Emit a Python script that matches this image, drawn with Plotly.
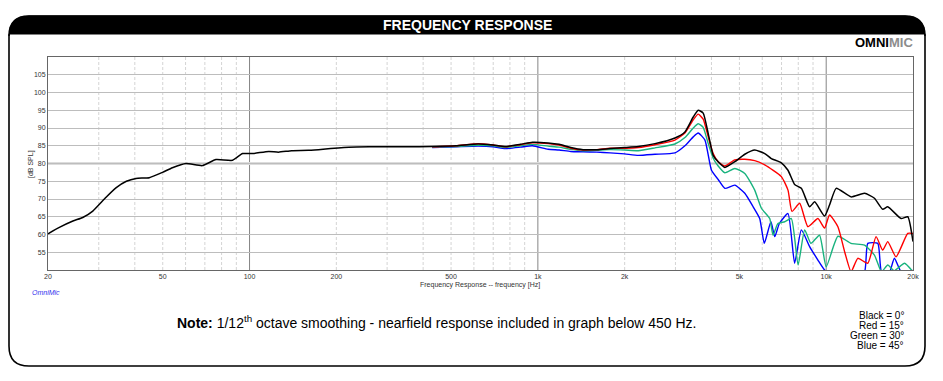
import math
import plotly.graph_objects as go

# ---------------- data ----------------
black_f = [20, 21.9, 24.4, 26.4, 28.6, 31.8, 34.5, 37.4, 40.4, 44.9, 49.9, 54, 60.2, 68.6, 76.5,
           87.3, 94.6, 102.5, 116.6, 126, 140, 160, 180, 203, 221, 260, 300, 350, 428, 520, 621,
           700, 770, 870, 957, 1085, 1185, 1300, 1435, 1600, 1780, 2000, 2230, 2548, 2988, 3236,
           3458, 3598, 3744, 3898, 4055, 4220, 4452, 4820, 5220, 5650, 6120, 6450, 6990, 7370,
           7770, 8200, 8760, 9120, 9870, 10270, 10830, 12200, 13580, 14700, 15700, 16350, 18180,
           19180, 20000]
black_db = [60.2, 62.0, 63.8, 64.8, 66.6, 70.5, 73.2, 75.0, 75.8, 76.0, 77.5, 78.8, 80.0, 79.4, 81.1,
            80.9, 82.8, 82.8, 83.4, 83.2, 83.6, 83.7, 84.0, 84.4, 84.6, 84.7, 84.7, 84.7, 84.8, 85.0, 85.5,
            85.2, 84.8, 85.4, 86.0, 85.8, 85.4, 84.5, 83.9, 83.9, 84.2, 84.5, 84.8, 85.6, 87.2, 88.9,
            93.1, 95.0, 94.2, 88.4, 82.3, 80.5, 78.9, 80.5, 82.6, 83.8, 82.8, 81.4, 80.2, 78.1,
            74.1, 73.0, 67.8, 69.2, 65.2, 68.3, 73.0, 70.6, 71.6, 70.2, 67.1, 67.8, 64.5,
            65.0, 58.0]

red_f = [430, 520, 621, 700, 770, 870, 957, 1085, 1185, 1300, 1435, 1600, 1780, 2000, 2230, 2548,
         2988, 3236, 3458, 3598, 3744, 3898, 4055, 4220, 4452, 4820, 5220, 5650, 6120, 6990, 7370,
         7610, 8090, 8640, 9360, 9870, 10270, 10980, 11600, 12200, 12870, 13940, 14890, 15700,
         16350, 17470, 19180, 20000]
red_db = [84.7, 85.0, 85.6, 85.2, 84.7, 85.3, 85.8, 85.6, 85.2, 84.3, 83.8, 83.9, 84.3, 84.3, 84.5, 85.3,
          86.6, 88.6, 92.3, 93.9, 92.5, 87.5, 82.8, 80.5, 79.3, 81.0, 81.2, 80.8, 79.6, 76.3, 72.5,
          66.5, 68.8, 62.2, 64.5, 61.8, 65.5, 62.2, 55.0, 49.5, 53.3, 51.9, 59.4, 55.6,
          58.0, 53.7, 60.3, 60.3]

green_f = [430, 520, 621, 700, 770, 870, 957, 1085, 1185, 1300, 1435, 1600, 1780, 2000, 2230, 2548,
           2988, 3236, 3458, 3598, 3744, 3898, 4055, 4220, 4452, 4820, 5220, 5650, 5960, 6370, 6540,
           6800, 7180, 7570, 7990, 8420, 8850, 9480, 10000, 10980, 12200, 13580, 14700, 15550,
           16350, 17200, 18690, 20000]
green_db = [84.6, 84.8, 85.1, 85.0, 84.5, 85.0, 85.4, 84.9, 84.6, 84.0, 83.6, 83.7, 83.9, 83.8, 83.6, 84.4,
            85.5, 87.3, 90.0, 91.2, 90.2, 85.6, 81.5, 79.3, 77.4, 78.6, 77.2, 72.5, 67.4, 64.5, 59.8,
            63.1, 63.6, 64.5, 51.4, 61.3, 57.5, 59.8, 50.9, 59.5, 57.5, 57.0, 54.2, 49.5,
            51.4, 49.8, 51.9, 49.5]

blue_f = [430, 520, 621, 700, 770, 870, 957, 1085, 1185, 1300, 1435, 1600, 1780, 2000, 2230, 2548,
          2988, 3236, 3458, 3598, 3797, 4000, 4220, 4452, 4820, 5220, 5580, 5880, 6100, 6430, 6630,
          6880, 7370, 7770, 8200, 8760, 9360, 9870, 10400, 11500, 12500, 13580, 13940, 15100,
          15550, 16500, 17240, 18180, 19500, 20000]
blue_db = [84.5, 84.7, 84.9, 84.7, 84.2, 84.6, 85.0, 84.0, 83.8, 83.4, 83.3, 83.2, 83.0, 82.7, 82.3, 82.6,
           83.0, 85.0, 87.5, 88.6, 86.6, 78.1, 75.5, 73.0, 73.9, 71.6, 67.8, 64.5, 57.5, 63.6, 59.4,
           63.1, 65.9, 51.9, 61.3, 56.6, 52.8, 50.0, 48.5, 48.0, 48.5, 49.5, 57.5, 57.5,
           49.5, 49.0, 53.3, 49.5, 48.5, 50.0]

x_tick_vals = [20, 50, 100, 200, 500, 1000, 2000, 5000, 10000, 20000]
x_tick_text = ["20", "50", "100", "200", "500", "1k", "2k", "5k", "10k", "20k"]
y_tick_vals = [55, 60, 65, 70, 75, 80, 85, 90, 95, 100, 105]
legend_lines = ["Black = 0°", "Red = 15°", "Green = 30°", "Blue = 45°"]

# ---------------- layout geometry (screen pixels) ----------------
OFF = 8                      # default page body margin
W, H = 943 - 2 * OFF, 381 - 2 * OFF
SL, SR, ST, SB = 48, 913, 57, 270   # plot area in screen pixels


def px(x):
    return (x - SL) / (SR - SL)


def py(y):
    return (SB - y) / (SB - ST)


FONT = "Liberation Sans, Arial, sans-serif"

fig = go.Figure()

series = [(blue_f, blue_db, "#0000ff", 1.4), (green_f, green_db, "#19b37e", 1.4),
          (red_f, red_db, "#ff0000", 1.4), (black_f, black_db, "#000000", 1.5)]
for fx, dy, col, w in series:
    fig.add_trace(go.Scatter(x=fx, y=dy, mode="lines",
                             line=dict(color=col, width=w, shape="spline", smoothing=0.5),
                             hoverinfo="skip", showlegend=False))

shapes = []
# vertical grid lines (shape x given in data units on the log axis)
for dec in [10, 100, 1000, 10000]:
    for m in range(1, 10):
        f = dec * m
        if f <= 20 or f >= 20000:
            continue
        major = (m == 1)
        shapes.append(dict(type="line", xref="x", yref="paper", x0=f, x1=f,
                           y0=0, y1=1, layer="below",
                           line=dict(color="#858585" if major else "#d4d4d4", width=1,
                                     dash="solid" if major else "3px,2px")))
# thicker 80 dB reference line
shapes.append(dict(type="line", xref="paper", yref="y", x0=0, x1=1, y0=80, y1=80, layer="below",
                   line=dict(color="#dcdcdc", width=3)))

# outer rounded box and header
L, R, T, B, HB, r = 9, 925, 16, 366, 34, 20
box = (f"M {px(L + r)},{py(T)} L {px(R - r)},{py(T)} Q {px(R)},{py(T)} {px(R)},{py(T + r)} "
       f"L {px(R)},{py(B - r)} Q {px(R)},{py(B)} {px(R - r)},{py(B)} L {px(L + r)},{py(B)} "
       f"Q {px(L)},{py(B)} {px(L)},{py(B - r)} L {px(L)},{py(T + r)} Q {px(L)},{py(T)} {px(L + r)},{py(T)} Z")
hdr = (f"M {px(L)},{py(HB)} L {px(L)},{py(T + r)} Q {px(L)},{py(T)} {px(L + r)},{py(T)} "
       f"L {px(R - r)},{py(T)} Q {px(R)},{py(T)} {px(R)},{py(T + r)} L {px(R)},{py(HB)} Z")
shapes.append(dict(type="path", xref="paper", yref="paper", path=hdr, fillcolor="#000000",
                   line=dict(color="#000000", width=1), layer="above"))
shapes.append(dict(type="path", xref="paper", yref="paper", path=box,
                   line=dict(color="#000000", width=1.6), layer="above"))

ann = []
ann.append(dict(text="<b>FREQUENCY RESPONSE</b>", x=px(467), y=py(25), xref="paper", yref="paper",
                showarrow=False, font=dict(family=FONT, size=14, color="#ffffff"),
                xanchor="center", yanchor="middle"))
ann.append(dict(text="<b>OMNI<span style='color:#8c8c8c'>MIC</span></b>", x=px(915), y=py(42),
                xref="paper", yref="paper", showarrow=False,
                font=dict(family=FONT, size=13, color="#000000"), xanchor="right", yanchor="middle"))
ann.append(dict(text="[dB SPL]", x=px(31), y=py(164), xref="paper", yref="paper", showarrow=False,
                textangle=-90, font=dict(family=FONT, size=7, color="#333333"),
                xanchor="center", yanchor="middle"))
ann.append(dict(text="Frequency Response -- frequency [Hz]", x=px(480), y=py(285), xref="paper",
                yref="paper", showarrow=False, font=dict(family=FONT, size=7, color="#333333"),
                xanchor="center", yanchor="middle"))
ann.append(dict(text="<i>OmniMic</i>", x=px(30), y=py(292), xref="paper", yref="paper",
                showarrow=False, font=dict(family=FONT, size=7, color="#3333ee"),
                xanchor="left", yanchor="middle"))
ann.append(dict(text="<b>Note:</b> 1/12<sup>th</sup> octave smoothing - nearfield response included in graph below 450 Hz.",
                x=px(436), y=py(322), xref="paper", yref="paper", showarrow=False,
                font=dict(family=FONT, size=14, color="#000000"), xanchor="center", yanchor="middle"))
for i, t in enumerate(legend_lines):
    ann.append(dict(text=t, x=px(906), y=py(315 + 10.3 * i), xref="paper", yref="paper",
                    showarrow=False, font=dict(family=FONT, size=10, color="#000000"),
                    xanchor="right", yanchor="middle"))

fig.update_layout(
    width=W, height=H,
    margin=dict(l=SL - OFF, r=W - (SR - OFF), t=ST - OFF, b=H - (SB - OFF), autoexpand=False),
    paper_bgcolor="#ffffff", plot_bgcolor="#ffffff",
    shapes=shapes, annotations=ann, showlegend=False,
    xaxis=dict(type="log", range=[math.log10(20), math.log10(20000)], tickvals=x_tick_vals,
               ticktext=x_tick_text, showgrid=False, zeroline=False, ticks="",
               tickfont=dict(family=FONT, size=7, color="#333333"),
               showline=True, mirror=True, linecolor="#666666", linewidth=1),
    yaxis=dict(range=[50, 110], tickvals=y_tick_vals, showgrid=True, gridcolor="#bdbdbd",
               gridwidth=1, zeroline=False, ticks="",
               tickfont=dict(family=FONT, size=7, color="#333333"),
               showline=True, mirror=True, linecolor="#666666", linewidth=1),
)

fig.write_html("out.html")
